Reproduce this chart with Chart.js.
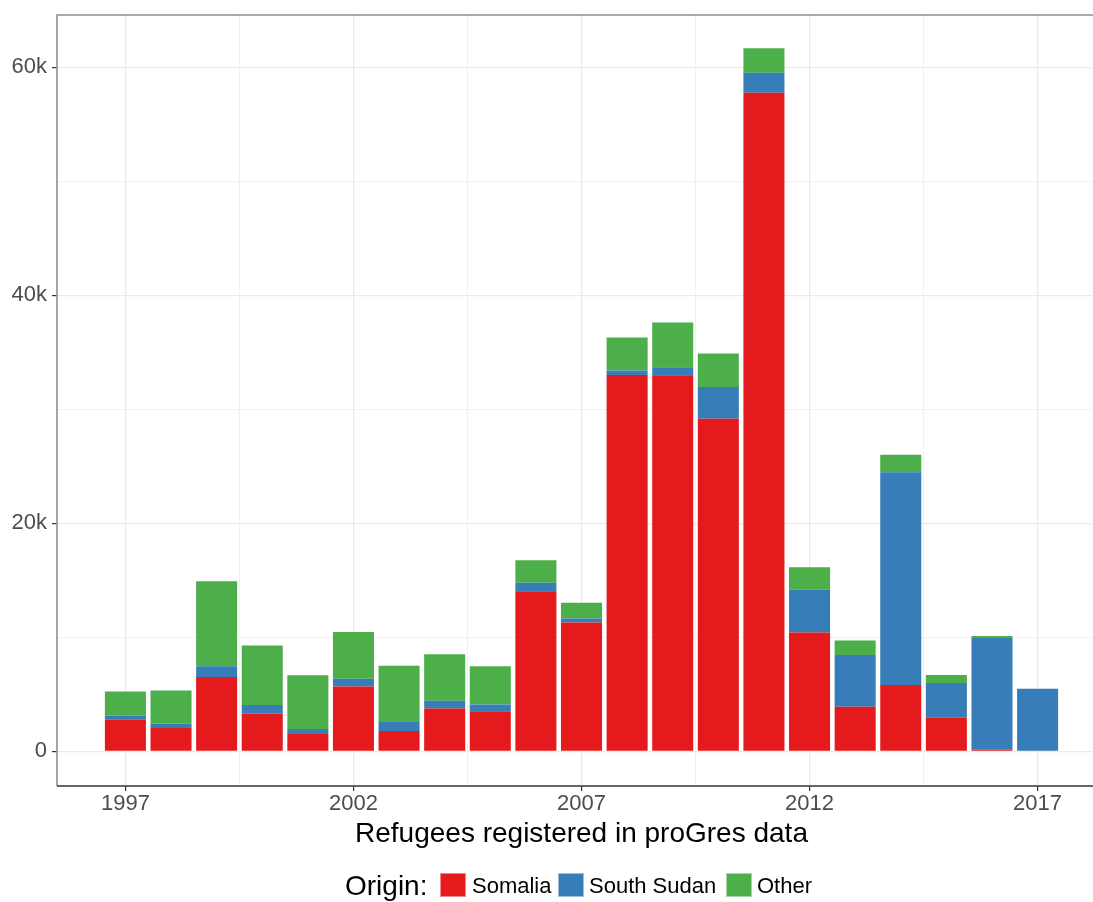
<!DOCTYPE html>
<html>
<head>
<meta charset="utf-8">
<script src="https://cdn.jsdelivr.net/npm/chart.js@4/dist/chart.umd.min.js"></script>
<style>
html,body{margin:0;padding:0;background:#fff;width:1093px;height:902px;overflow:hidden;}
#wrap{position:absolute;left:0;top:0;width:1106px;height:902px;}
.lg{position:absolute;font-family:"Liberation Sans",Arial,sans-serif;color:#000;white-space:nowrap;height:32px;line-height:32px;top:870px;}
.sw{position:absolute;top:873px;width:26px;height:24px;box-sizing:border-box;}
</style>
</head>
<body>
<div id="wrap"><canvas id="c" width="1106" height="902"></canvas></div>
<div class="lg" style="left:345px;font-size:28px;">Origin:</div>
<div class="sw" style="left:440px;background:#E41A1C;border:1px solid #f08a8b;"></div>
<div class="lg" style="left:472px;font-size:22px;">Somalia</div>
<div class="sw" style="left:558px;background:#377EB8;border:1px solid #9bbfdc;"></div>
<div class="lg" style="left:589px;font-size:22px;">South Sudan</div>
<div class="sw" style="left:726px;background:#4DAF4A;border:1px solid #a6d7a4;"></div>
<div class="lg" style="left:757px;font-size:22px;">Other</div>
<script>
// ---- data ----
const years = [1997,1998,1999,2000,2001,2002,2003,2004,2005,2006,2007,2008,2009,2010,2011,2012,2013,2014,2015,2016,2017];
const somalia    = [2770,2040,6520,3320,1510,5690,1770,3760,3500,14040,11290,33010,32990,29180,57780,10410,3910,5820,2940,130,0];
const southSudan = [350,400,930,740,440,680,790,680,610,740,350,390,700,2780,1760,3770,4540,18670,3050,9870,5490];
const other      = [2130,2900,7470,5210,4710,4100,4950,4070,3340,1980,1380,2900,3930,2930,2140,1960,1260,1530,700,120,0];
const yTicks = [0,10000,20000,30000,40000,50000,60000];
const yMajor = [0,20000,40000,60000];
const yLabels = ['0','20k','40k','60k'];
const xTicks = [1997,1999.5,2002,2004.5,2007,2009.5,2012,2014.5,2017];
const xMajor = [1997,2002,2007,2012,2017];

const toXY = arr => years.map((y,i)=>({x:y, y:arr[i]}));
const FONT = '"Liberation Sans", Arial, sans-serif';

const borderPlugin = {
  id:'panelBorder',
  afterDraw(chart){
    const {ctx, chartArea:a} = chart;
    ctx.save();
    ctx.strokeStyle = '#8f8f8f';
    ctx.lineWidth = 1.6;
    ctx.beginPath();
    ctx.moveTo(a.left, a.bottom);
    ctx.lineTo(a.left, a.top);
    ctx.lineTo(a.right, a.top);
    ctx.lineTo(a.right, a.bottom);
    ctx.stroke();
    ctx.strokeStyle = '#333';
    ctx.lineWidth = 1.3;
    ctx.beginPath();
    ctx.moveTo(a.left, a.bottom);
    ctx.lineTo(a.right, a.bottom);
    ctx.stroke();
    ctx.restore();
  }
};

function noPad(s){ s.paddingTop = 0; s.paddingBottom = 0; s.paddingLeft = 0; s.paddingRight = 0; }

new Chart(document.getElementById('c'), {
  type:'bar',
  data:{
    datasets:[
      {label:'Somalia', data:toXY(somalia), backgroundColor:'#E41A1C', borderWidth:0},
      {label:'South Sudan', data:toXY(southSudan), backgroundColor:'#377EB8', borderWidth:0},
      {label:'Other', data:toXY(other), backgroundColor:'#4DAF4A', borderWidth:0}
    ]
  },
  options:{
    responsive:false,
    animation:false,
    devicePixelRatio:1,
    layout:{padding:{left:0,right:0,top:15,bottom:0}},
    datasets:{bar:{barPercentage:0.9, categoryPercentage:1.0}},
    plugins:{legend:{display:false}, tooltip:{enabled:false}, title:{display:false}},
    scales:{
      x:{
        type:'linear', stacked:true, offset:false,
        min:1995.5, max:2018.5,
        afterBuildTicks(s){ s.ticks = xTicks.map(v=>({value:v})); },
        afterFit(s){ s.height = 902 - 786; noPad(s); },
        ticks:{
          autoSkip:false, maxRotation:0, minRotation:0, padding:0,
          color:'#4D4D4D', font:{family:FONT, size:22},
          callback:(v)=> xMajor.includes(v) ? String(v) : ''
        },
        grid:{
          offset:false, drawTicks:true, tickLength:5,
          color:'#EBEBEB',
          lineWidth:(c)=> (c.tick && xMajor.includes(c.tick.value)) ? 1.2 : 0.7,
          tickColor:(c)=> (c.tick && xMajor.includes(c.tick.value)) ? '#333' : 'rgba(0,0,0,0)',
          tickWidth:1.2
        },
        border:{display:false},
        title:{display:true, text:'Refugees registered in proGres data', color:'#000',
               font:{family:FONT, size:28}, padding:{top:0,bottom:51}}
      },
      y:{
        type:'linear', stacked:true,
        min:-3050, max:64600,
        afterBuildTicks(s){ s.ticks = yTicks.map(v=>({value:v})); },
        afterFit(s){ s.width = 57; noPad(s); },
        ticks:{
          padding:5, color:'#4D4D4D', font:{family:FONT, size:22},
          callback:(v)=>{ const i = yMajor.indexOf(v); return i>=0 ? yLabels[i] : ''; }
        },
        grid:{
          drawTicks:true, tickLength:5,
          color:'#EBEBEB',
          lineWidth:(c)=> (c.tick && yMajor.includes(c.tick.value)) ? 1.2 : 0.7,
          tickColor:(c)=> (c.tick && yMajor.includes(c.tick.value)) ? '#333' : 'rgba(0,0,0,0)',
          tickWidth:1.2
        },
        border:{display:false}
      }
    }
  },
  plugins:[borderPlugin]
});
</script>
</body>
</html>
